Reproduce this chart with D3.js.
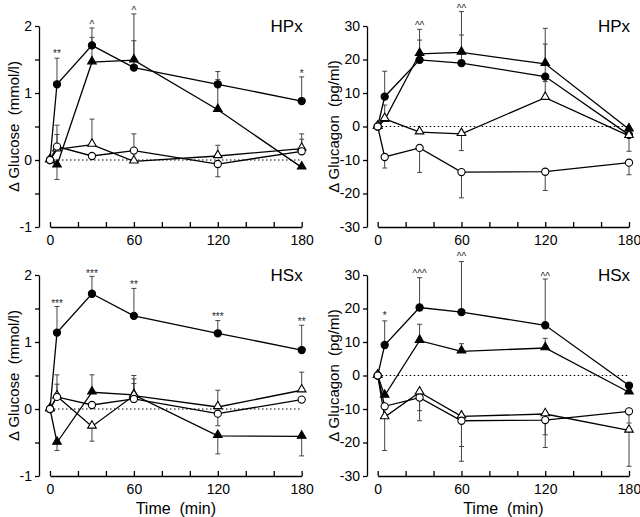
<!DOCTYPE html>
<html>
<head>
<meta charset="utf-8">
<script src="https://cdn.jsdelivr.net/npm/d3@7"></script>
<style>
  body { margin: 0; background: #fff; }
  svg { font-family: "Liberation Sans", Arial, Helvetica, sans-serif; }
  .axis path, .axis line { stroke: #000; stroke-width: 1.3; }
  .axis text { font-size: 14px; fill: #000; }
</style>
</head>
<body>
<div id="chart"></div>
<script>
// time points (min)
const times = [0, 5, 30, 60, 120, 180];

// HPx - glucose (mmol/l); err = end of the error bar
const hpxGluFC = [0, 1.13, 1.71, 1.38, 1.13, 0.88];
const hpxGluFCerr = [null, 1.52, 1.97, 1.78, 1.32, 1.24];
const hpxGluFT = [0, -0.08, 1.46, 1.49, 0.75, -0.11];
const hpxGluFTerr = [null, -0.29, 1.83, 2.18, 1.2, null];
const hpxGluOT = [0, 0.16, 0.23, -0.02, 0.06, 0.17];
const hpxGluOTerr = [null, 0.52, 0.61, 0.39, 0.22, 0.39];
const hpxGluOC = [0, 0.2, 0.06, 0.14, -0.06, 0.13];
const hpxGluOCerr = [null, 0.38, null, null, -0.25, 0.31];
const hpxGluSig = [[5, "**", 1.61], [30, "^", 2.04], [60, "^", 2.26], [180, "*", 1.31]];

// HPx - glucagon (pg/ml)
const hpxGcgFC = [0, 8.9, 19.9, 18.9, 14.9, -2.5];
const hpxGcgFCerr = [null, 16.5, 25.8, 27.3, 24.6, null];
const hpxGcgFT = [0, 2, 21.7, 22.1, 18.7, -0.8];
const hpxGcgFTerr = [null, 6.4, 29, 34.3, 29.3, null];
const hpxGcgOT = [0, 2.3, -1.7, -2.2, 8.6, -2.8];
const hpxGcgOTerr = [null, null, null, -7.2, 13.4, -7.4];
const hpxGcgOC = [0, -9.1, -6.4, -13.6, -13.5, -10.8];
const hpxGcgOCerr = [null, -12.4, -13.7, -21.3, -19.1, -14.4];
const hpxGcgSig = [[30, "^^", 30.6], [60, "^^", 35.6]];

// HSx - glucose (mmol/l)
const hsxGluFC = [0, 1.14, 1.72, 1.39, 1.13, 0.88];
const hsxGluFCerr = [null, 1.53, 1.98, 1.8, 1.32, 1.25];
const hsxGluFT = [0, -0.5, 0.25, 0.21, -0.4, -0.41];
const hsxGluFTerr = [null, -0.62, 0.51, 0.45, -0.67, -0.7];
const hsxGluOT = [0, 0.19, -0.26, 0.2, 0.03, 0.28];
const hsxGluOTerr = [null, 0.51, -0.48, 0.5, 0.28, 0.55];
const hsxGluOC = [0, 0.18, 0.06, 0.15, -0.07, 0.14];
const hsxGluOCerr = [null, 0.37, null, 0.38, -0.25, null];
const hsxGluSig = [[5, "***", 1.6], [30, "***", 2.05], [60, "**", 1.88], [120, "***", 1.41], [180, "**", 1.33]];

// HSx - glucagon (pg/ml)
const hsxGcgFC = [0, 9.1, 20.3, 18.9, 15.0, -3.0];
const hsxGcgFCerr = [null, 16.3, 29.2, 34, 28.8, null];
const hsxGcgFT = [0, -6, 10.4, 7.2, 8.2, -5];
const hsxGcgFTerr = [null, null, 15.3, 9.5, 11.1, null];
const hsxGcgOT = [0, -12.4, -5, -12.2, -11.5, -16.4];
const hsxGcgOTerr = [null, -22.4, -10.5, -25.6, -17.7, -27.1];
const hsxGcgOC = [0, -9.2, -6.6, -13.5, -13.3, -10.7];
const hsxGcgOCerr = [null, null, -13.5, -21.2, -21.5, -14.2];
const hsxGcgSig = [[5, "*", 18.3], [30, "^^^", 30.8], [60, "^^", 36], [120, "^^", 30]];

const xTickVals = d3.range(0, 181, 20);
const xTickLabels = [0, 60, 120, 180];
const gluTicks = [-1, -0.5, 0, 0.5, 1, 1.5, 2];
const gluLabels = [-1, 0, 1, 2];
const gcgTicks = [-30, -20, -10, 0, 10, 20, 30];

const width = 640, height = 517;
const svg = d3.select("#chart").append("svg")
  .attr("width", width).attr("height", height);

const panels = [
  {x0: 50, x1: 301.7, yTop: 26, yBot: 227, axisX: 39, domain: [-1, 2], ticks: gluTicks, labels: gluLabels,
   ylab: "\u0394 Glucose  (mmol/l)", labX: 15, tag: "HPx", time: false,
   series: [[hpxGluFC, hpxGluFCerr, "fc"], [hpxGluFT, hpxGluFTerr, "ft"], [hpxGluOT, hpxGluOTerr, "ot"], [hpxGluOC, hpxGluOCerr, "oc"]],
   sig: hpxGluSig},
  {x0: 377.7, x1: 629, yTop: 26, yBot: 227, axisX: 367, domain: [-30, 30], ticks: gcgTicks, labels: gcgTicks,
   ylab: "\u0394 Glucagon  (pg/ml)", labX: 335, tag: "HPx", time: false,
   series: [[hpxGcgFC, hpxGcgFCerr, "fc"], [hpxGcgFT, hpxGcgFTerr, "ft"], [hpxGcgOT, hpxGcgOTerr, "ot"], [hpxGcgOC, hpxGcgOCerr, "oc"]],
   sig: hpxGcgSig},
  {x0: 50, x1: 301.7, yTop: 275, yBot: 476, axisX: 39, domain: [-1, 2], ticks: gluTicks, labels: gluLabels,
   ylab: "\u0394 Glucose  (mmol/l)", labX: 15, tag: "HSx", time: true,
   series: [[hsxGluFC, hsxGluFCerr, "fc"], [hsxGluFT, hsxGluFTerr, "ft"], [hsxGluOT, hsxGluOTerr, "ot"], [hsxGluOC, hsxGluOCerr, "oc"]],
   sig: hsxGluSig},
  {x0: 377.7, x1: 629, yTop: 275, yBot: 476, axisX: 367, domain: [-30, 30], ticks: gcgTicks, labels: gcgTicks,
   ylab: "\u0394 Glucagon  (pg/ml)", labX: 335, tag: "HSx", time: true,
   series: [[hsxGcgFC, hsxGcgFCerr, "fc"], [hsxGcgFT, hsxGcgFTerr, "ft"], [hsxGcgOT, hsxGcgOTerr, "ot"], [hsxGcgOC, hsxGcgOCerr, "oc"]],
   sig: hsxGcgSig}
];

const triSym = d3.symbol().type(d3.symbolTriangle).size(32);

panels.forEach(p => {
  const x = d3.scaleLinear().domain([0, 180]).range([p.x0, p.x1]);
  const y = d3.scaleLinear().domain(p.domain).range([p.yBot, p.yTop]);
  const g = svg.append("g");

  // y axis (plain hyphen for negatives, like the original)
  g.append("g").attr("class", "axis")
    .attr("transform", "translate(" + p.axisX + ",0)")
    .call(d3.axisLeft(y).tickValues(p.ticks).tickSize(4).tickSizeOuter(0).tickPadding(3)
      .tickFormat(d => p.labels.includes(d) ? String(d) : ""));

  // x axis
  g.append("g").attr("class", "axis")
    .attr("transform", "translate(0," + p.yBot + ")")
    .call(d3.axisBottom(x).tickValues(xTickVals).tickSize(-5).tickSizeOuter(0).tickPadding(8)
      .tickFormat(d => xTickLabels.includes(d) ? String(d) : ""));
  g.selectAll(".axis .domain").attr("fill", "none");

  // zero line
  g.append("line")
    .attr("x1", x(0)).attr("x2", x(180))
    .attr("y1", y(0)).attr("y2", y(0))
    .attr("stroke", "#000").attr("stroke-width", 1)
    .attr("stroke-dasharray", "1.5,2.5");

  // y label
  g.append("text")
    .attr("transform", "translate(" + p.labX + "," + ((p.yTop + p.yBot) / 2) + ") rotate(-90)")
    .attr("text-anchor", "middle").attr("dominant-baseline", "middle")
    .attr("font-size", 15).style("white-space", "pre").text(p.ylab);

  // panel tag
  g.append("text")
    .attr("x", p.x1 + 1).attr("y", p.yTop + 6)
    .attr("text-anchor", "end").attr("font-size", 17).text(p.tag);

  if (p.time) {
    g.append("text")
      .attr("x", (p.x0 + p.x1) / 2).attr("y", p.yBot + 38)
      .attr("text-anchor", "middle").attr("font-size", 16)
      .style("white-space", "pre")
      .text("Time  (min)");
  }

  // error bars
  p.series.forEach(s => {
    const vals = s[0], errs = s[1];
    times.forEach((t, i) => {
      if (errs[i] === null) return;
      g.append("line")
        .attr("x1", x(t)).attr("x2", x(t))
        .attr("y1", y(vals[i])).attr("y2", y(errs[i]))
        .attr("stroke", "#444").attr("stroke-width", 1);
      g.append("line")
        .attr("x1", x(t) - 2.5).attr("x2", x(t) + 2.5)
        .attr("y1", y(errs[i])).attr("y2", y(errs[i]))
        .attr("stroke", "#444").attr("stroke-width", 1);
    });
  });

  // lines
  const line = d3.line().x((d, i) => x(times[i])).y(d => y(d));
  p.series.forEach(s => {
    g.append("path").datum(s[0])
      .attr("d", line)
      .attr("fill", "none").attr("stroke", "#000").attr("stroke-width", 1.3);
  });

  // markers (open ones on top)
  p.series.forEach(s => {
    const vals = s[0], kind = s[2];
    const filled = kind === "fc" || kind === "ft";
    vals.forEach((v, i) => {
      let m;
      if (kind === "fc" || kind === "oc") {
        m = g.append("circle").attr("cx", x(times[i])).attr("cy", y(v)).attr("r", 3.6);
      } else {
        m = g.append("path").attr("d", triSym)
          .attr("transform", "translate(" + x(times[i]) + "," + (y(v) - 0.8) + ")");
      }
      m.attr("fill", filled ? "#000" : "#fff").attr("stroke", "#000").attr("stroke-width", 1.1);
    });
  });

  // significance marks (grouped with opacity so they render in grey, not colour fringed)
  g.append("g").attr("opacity", 0.99)
    .selectAll("text").data(p.sig).enter().append("text")
    .attr("x", d => x(d[0])).attr("y", d => y(d[2]) + 5)
    .attr("text-anchor", "middle").attr("font-size", 10)
    .attr("fill", "#222").text(d => d[1]);
});
</script>
</body>
</html>
